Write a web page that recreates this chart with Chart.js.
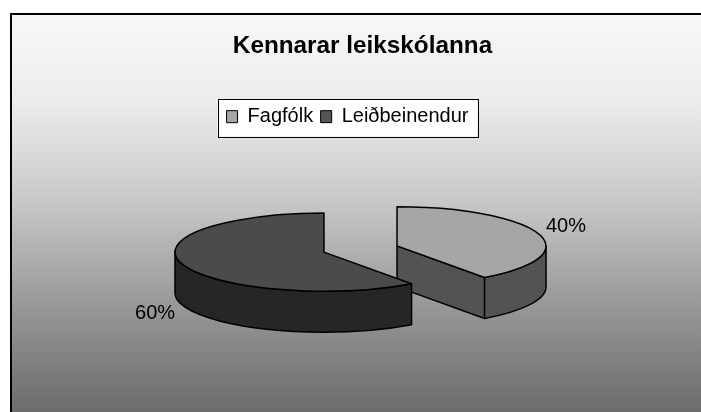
<!DOCTYPE html>
<html>
<head>
<meta charset="utf-8">
<style>
  html, body { margin: 0; padding: 0; background: #fff; }
  canvas { display: block; }
</style>
<script src="https://cdn.jsdelivr.net/npm/chart.js@4/dist/chart.umd.min.js"></script>
</head>
<body>
<canvas id="pie" width="701" height="412"></canvas>
<script>
// Data
const categories = ['Fagfólk', 'Leiðbeinendur'];
const shares = [40, 60];
const chartTitle = 'Kennarar leikskólanna';

const topColors = ['#a6a6a6', '#4b4b4b'];
const wallColors = ['#535353', '#262626'];
const swatchColors = ['#a6a6a6', '#555555'];

// Fake 3D: the pie is flattened, pulled apart and given a wall
const squash = 0.262;
const depth = 41;
const explode = 38.4;
const centerX = 360.5;
const centerY = 249;
const outline = 1.5;

// Screen position and radii of one slice, taken from the arc element
function sliceGeometry(chart, arc) {
    const area = chart.chartArea;
    return {
        mid: (arc.startAngle + arc.endAngle) / 2,
        start: arc.startAngle,
        end: arc.endAngle,
        rx: arc.outerRadius,
        ry: arc.outerRadius * squash,
        x: centerX + arc.x - (area.left + area.right) / 2,
        y: centerY + (arc.y - (area.top + area.bottom) / 2) * squash
    };
}

function drawWalls(ctx, g, color) {
    ctx.fillStyle = color;
    ctx.strokeStyle = '#000';
    ctx.lineWidth = outline;
    ctx.lineJoin = 'round';

    // cut face, only when it turns towards the viewer
    if (Math.cos(g.end) > 0.001) {
        const tipX = g.x + Math.cos(g.end) * g.rx;
        const tipY = g.y + Math.sin(g.end) * g.ry;
        ctx.beginPath();
        ctx.moveTo(g.x, g.y);
        ctx.lineTo(tipX, tipY);
        ctx.lineTo(tipX, tipY + depth);
        ctx.lineTo(g.x, g.y + depth);
        ctx.closePath();
        ctx.fill();
        ctx.stroke();
    }

    // rim, only the front half of the ellipse
    const from = Math.max(g.start, 0);
    const to = Math.min(g.end, Math.PI);
    if (to > from) {
        ctx.beginPath();
        ctx.ellipse(g.x, g.y, g.rx, g.ry, 0, from, to);
        ctx.ellipse(g.x, g.y + depth, g.rx, g.ry, 0, to, from, true);
        ctx.closePath();
        ctx.fill();
        ctx.stroke();
    }
}

function strokeTop(ctx, g) {
    ctx.strokeStyle = '#000';
    ctx.lineWidth = outline;
    ctx.lineJoin = 'round';
    ctx.beginPath();
    ctx.moveTo(g.x, g.y);
    ctx.ellipse(g.x, g.y, g.rx, g.ry, 0, g.start, g.end);
    ctx.closePath();
    ctx.stroke();
}

const pie3d = {
    id: 'pie3d',
    afterLayout(chart) {
        // title sits a bit right of the legend in the reference
        chart.titleBlock.left += 15;
        chart.titleBlock.right += 15;
    },
    afterDatasetsUpdate(chart) {
        // pull the slices apart along their middle angle
        chart.getDatasetMeta(0).data.forEach((arc) => {
            const mid = (arc.startAngle + arc.endAngle) / 2;
            arc.x += Math.cos(mid) * explode;
            arc.y += Math.sin(mid) * explode;
        });
    },
    beforeDraw(chart) {
        const ctx = chart.ctx;
        const w = chart.width, h = chart.height;
        const grad = ctx.createLinearGradient(0, 14, 0, h);
        grad.addColorStop(0, '#f8f8f8');
        grad.addColorStop(0.22, '#ececec');
        grad.addColorStop(0.47, '#c8c8c8');
        grad.addColorStop(0.72, '#9a9a9a');
        grad.addColorStop(1, '#6c6c6c');
        ctx.save();
        ctx.fillStyle = grad;
        ctx.fillRect(11, 14, w - 11, h - 14);

        ctx.strokeStyle = '#000';
        ctx.lineWidth = 2;
        ctx.beginPath();
        ctx.moveTo(11, h);
        ctx.lineTo(11, 14);
        ctx.lineTo(w, 14);
        ctx.stroke();

        // white legend box
        const boxes = chart.legend.legendHitBoxes;
        const left = boxes[0].left - 9;
        const right = boxes[boxes.length - 1].left + boxes[boxes.length - 1].width + 9;
        ctx.fillStyle = '#fff';
        ctx.lineWidth = 1;
        ctx.fillRect(left, chart.legend.top, right - left, chart.legend.height);
        ctx.strokeRect(Math.round(left) + 0.5, Math.round(chart.legend.top) + 0.5,
            Math.round(right - left), Math.round(chart.legend.height));
        ctx.restore();
    },
    beforeDatasetsDraw(chart) {
        const ctx = chart.ctx;
        const area = chart.chartArea;
        const arcs = chart.getDatasetMeta(0).data;
        ctx.save();
        arcs.forEach((arc, i) => drawWalls(ctx, sliceGeometry(chart, arc), wallColors[i]));
        ctx.restore();

        // flatten everything the controller draws
        ctx.save();
        ctx.translate(centerX, centerY);
        ctx.scale(1, squash);
        ctx.translate(-(area.left + area.right) / 2, -(area.top + area.bottom) / 2);
    },
    afterDatasetsDraw(chart) {
        const ctx = chart.ctx;
        ctx.restore();

        const arcs = chart.getDatasetMeta(0).data;
        const total = shares.reduce((a, b) => a + b, 0);
        ctx.save();
        arcs.forEach((arc) => strokeTop(ctx, sliceGeometry(chart, arc)));

        ctx.fillStyle = '#000';
        ctx.font = '20px "Liberation Sans", Arial, sans-serif';
        ctx.textAlign = 'center';
        ctx.textBaseline = 'middle';
        arcs.forEach((arc, i) => {
            const g = sliceGeometry(chart, arc);
            const dist = 216;
            const x = centerX + Math.cos(g.mid) * dist;
            let y = centerY + Math.sin(g.mid) * dist * squash;
            y += Math.sin(g.mid) > 0 ? depth + 6 : -5;
            ctx.fillText(Math.round(shares[i] / total * 100) + '%', x, y);
        });
        ctx.restore();
    }
};

new Chart(document.getElementById('pie'), {
    type: 'pie',
    data: {
        labels: categories,
        datasets: [{
            data: shares,
            backgroundColor: topColors,
            borderWidth: 0,
            radius: 149,
            clip: false
        }]
    },
    plugins: [pie3d],
    options: {
        responsive: false,
        animation: false,
        layout: { padding: { left: 0, right: 6 } },
        plugins: {
            tooltip: { enabled: false },
            title: {
                display: true,
                text: chartTitle,
                color: '#000',
                font: { family: '"Liberation Sans", Arial, sans-serif', size: 24.3, weight: 'bold' },
                padding: { top: 32, bottom: 38 }
            },
            legend: {
                position: 'top',
                labels: {
                    color: '#000',
                    font: { family: '"Liberation Sans", Arial, sans-serif', size: 20 },
                    boxWidth: 11,
                    boxHeight: 12,
                    padding: 7.5,
                    generateLabels(chart) {
                        return categories.map((name, i) => ({
                            text: name,
                            fillStyle: swatchColors[i],
                            strokeStyle: '#000',
                            lineWidth: 1,
                            index: i
                        }));
                    }
                }
            }
        }
    }
});
</script>
</body>
</html>
